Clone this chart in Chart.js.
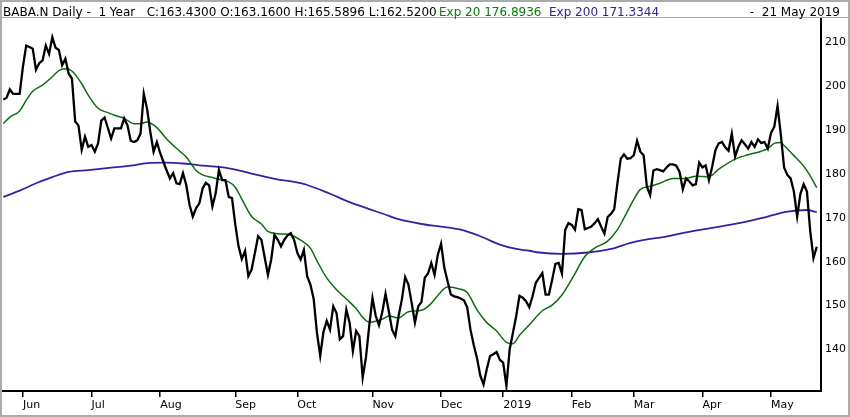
<!DOCTYPE html>
<html>
<head>
<meta charset="utf-8">
<title>BABA.N Daily</title>
<script src="https://cdn.jsdelivr.net/npm/chart.js@4.4.0/dist/chart.umd.min.js"></script>
<style>
  body { margin: 0; background: #fff; }
  #wrap { position: relative; width: 850px; height: 417px; overflow: hidden; background: #fff; }
  #chart { position: absolute; left: 0; top: 0; }
  .hdr { position: absolute; top: 5px; font: 12px "DejaVu Sans", sans-serif; line-height: 14px; white-space: pre; color: #000; }
  #frame { position: absolute; left: 0; top: 0; width: 850px; height: 417px; box-sizing: border-box; border: 2px solid #ababab; pointer-events: none; }
  #rule { position: absolute; left: 0; top: 17px; width: 850px; height: 1px; background: #ababab; }
</style>
</head>
<body>
<div id="wrap">
  <canvas id="chart" width="850" height="417"></canvas>
  <div id="rule"></div>
  <div class="hdr" style="left:3px">BABA.N Daily -  1 Year   C:163.4300 O:163.1600 H:165.5896 L:162.5200</div>
  <div class="hdr" style="left:439px; color:#0b7a0b">Exp 20 176.8936</div>
  <div class="hdr" style="left:549px; color:#35208c">Exp 200 171.3344</div>
  <div class="hdr" style="right:10px">-  21 May 2019</div>
  <div id="frame"></div>
</div>
<script>
// daily closes, one per trading day (23 May 2018 .. 21 May 2019)
const closes = [
  197.0,197.4,199.3,198.3,198.3,198.3,204.5,209.3,209.0,208.6,
  203.8,205.3,205.9,209.3,207.4,211.2,208.8,208.3,204.8,206.3,
  202.9,201.8,192.0,191.1,185.5,188.5,186.2,186.6,185.1,187.0,
  192.2,192.9,190.5,188.1,190.4,190.4,190.4,192.7,191.1,187.6,
  187.3,187.7,189.2,198.3,194.9,189.6,185.1,187.3,184.8,182.8,
  180.8,179.0,180.2,177.9,177.7,180.2,177.5,173.0,170.3,172.2,
  173.3,176.7,178.0,177.4,172.6,175.6,180.9,178.6,178.6,174.8,
  174.5,168.5,163.5,160.6,162.5,156.7,158.2,162.0,165.8,165.0,
  161.0,157.0,160.5,166.1,165.0,163.5,165.0,166.0,166.5,165.0,
  162.0,160.5,162.7,156.7,154.8,151.5,143.8,138.5,144.0,146.5,
  144.5,149.8,148.3,142.3,143.0,149.1,146.1,139.6,144.2,143.0,
  133.6,138.1,145.3,151.7,147.6,145.5,148.5,152.7,148.7,144.5,
  143.0,147.6,151.4,156.5,154.8,150.6,146.1,149.8,150.8,156.3,
  157.3,159.7,157.0,161.6,164.1,158.6,155.5,152.5,152.1,151.9,
  151.6,151.2,149.6,144.5,141.0,138.0,134.0,132.0,135.5,138.5,
  138.9,139.4,137.6,137.0,131.7,140.0,143.8,147.6,152.2,151.8,
  151.0,149.6,152.1,155.2,156.3,157.4,152.5,152.5,155.9,159.5,
  159.7,157.3,167.3,168.8,168.4,167.3,172.0,171.8,167.4,167.7,
  168.0,168.8,169.7,168.0,166.4,170.2,170.9,172.0,178.0,183.5,
  184.5,183.5,183.6,184.3,187.6,185.1,184.3,177.1,175.2,180.8,
  181.1,180.9,180.6,181.5,182.2,182.2,181.9,180.5,176.5,179.0,
  178.3,177.4,177.7,182.6,181.5,182.0,178.6,181.7,185.5,187.0,
  187.3,186.1,185.3,189.2,184.0,186.2,187.7,186.8,185.8,187.3,
  186.2,187.9,187.1,187.3,185.8,189.4,190.8,195.5,189.0,181.5,
  179.8,179.0,176.0,170.3,175.5,177.7,176.0,167.0,160.8,163.4
];

// Exp 20 line, read at a few trading-day positions
const ema20Days = [0,2,5,7,9,12,15,17,19,21,24,26,29,32,34,37,40,42,44,47,50,54,56,59,61,64,66,69,71,73,
  76,79,81,84,88,91,94,96,99,102,105,108,110,112,114,116,118,121,124,128,131,133,136,139,142,145,148,151,154,156,
  158,161,165,168,171,175,178,181,185,188,190,193,195,198,201,205,209,212,216,219,224,228,232,234,236,238,239,242,245,247,249];
const ema20 = [191.5,193.0,194.4,196.8,198.9,200.3,202.2,203.6,204.0,203.5,200.6,198.0,195.0,194.0,193.4,192.7,191.5,191.5,191.9,190.6,188.0,185.2,183.9,180.8,179.8,179.2,178.8,178.2,177.0,174.3,
  170.3,168.6,166.9,166.4,166.1,164.9,163.1,160.2,156.3,153.6,151.5,149.3,147.3,146.2,146.4,146.9,147.6,147.2,148.6,148.9,150.5,152.3,154.2,153.9,153.0,149.0,146.1,144.2,141.6,141.3,
  143.2,145.6,148.8,150.1,152.4,157.3,161.2,163.1,164.7,167.3,170.0,174.2,176.5,177.2,177.9,179.0,179.0,179.5,179.4,181.1,183.4,184.4,185.2,185.8,187.0,187.2,186.5,184.2,181.8,179.6,176.9];

// Exp 200 line
const ema200Days = [0,5,10,15,20,26,31,35,39,44,50,55,60,65,70,74,77,83,89,93,100,106,112,116,121,128,134,140,146,152,
  157,161,164,171,179,186,192,198,201,204,209,217,226,234,240,246,249];
const ema200 = [174.8,176.2,177.9,179.3,180.5,180.9,181.3,181.6,181.9,182.5,182.6,182.4,182.0,181.7,181.2,180.5,179.9,178.9,178.2,177.5,175.5,173.6,172.0,171.0,169.7,168.6,168.0,167.3,165.8,163.9,
  162.9,162.5,162.1,161.8,162.1,162.9,164.3,165.2,165.5,165.9,166.7,167.7,168.9,170.3,171.4,171.8,171.3];

// first trading day of each month, and its label
const monthIdx = [6,27,48,71,90,113,134,153,174,193,214,235];
const monthLabels = ['Jun','Jul','Aug','Sep','Oct','Nov','Dec','2019','Feb','Mar','Apr','May'];
const priceTicks = [140,150,160,170,180,190,200,210];

const axisFont = { family: 'DejaVu Sans', size: 11 };

new Chart(document.getElementById('chart').getContext('2d'), {
    type: 'line',
    data: {
        datasets: [
            {
                label: 'Close',
                data: closes.map((v, i) => ({ x: i, y: v })),
                borderColor: '#000',
                borderWidth: 2.3,
                pointRadius: 0,
                tension: 0
            },
            {
                label: 'Exp 20',
                data: ema20Days.map((d, i) => ({ x: d, y: ema20[i] })),
                borderColor: '#0b6e0b',
                borderWidth: 1.5,
                pointRadius: 0,
                cubicInterpolationMode: 'monotone'
            },
            {
                label: 'Exp 200',
                data: ema200Days.map((d, i) => ({ x: d, y: ema200[i] })),
                borderColor: '#3a1fa0',
                borderWidth: 1.8,
                pointRadius: 0,
                cubicInterpolationMode: 'monotone'
            }
        ]
    },
    options: {
        responsive: false,
        animation: false,
        layout: { padding: { top: 18, left: 3, right: 0, bottom: 0 } },
        plugins: {
            legend: { display: false },
            tooltip: { enabled: false }
        },
        scales: {
            x: {
                type: 'linear',
                min: -0.1,
                max: 250.3,
                afterBuildTicks: s => { s.ticks = monthIdx.map(v => ({ value: v })); },
                afterFit: s => { s.height = 26; },
                grid: { drawOnChartArea: false, drawTicks: true, tickLength: 6, color: '#000', lineWidth: 1.5 },
                border: { display: true, color: '#000', width: 2 },
                ticks: {
                    autoSkip: false,
                    maxRotation: 0,
                    align: 'start',
                    padding: 2,
                    color: '#000',
                    font: axisFont,
                    callback: v => monthLabels[monthIdx.indexOf(v)]
                }
            },
            y: {
                position: 'right',
                min: 130.5,
                max: 215.6,
                afterBuildTicks: s => { s.ticks = priceTicks.map(v => ({ value: v })); },
                afterFit: s => { s.width = 29; },
                grid: { drawOnChartArea: false, drawTicks: false },
                border: { display: true, color: '#000', width: 2 },
                ticks: { padding: 4, color: '#000', font: axisFont }
            }
        }
    }
});
</script>
</body>
</html>
